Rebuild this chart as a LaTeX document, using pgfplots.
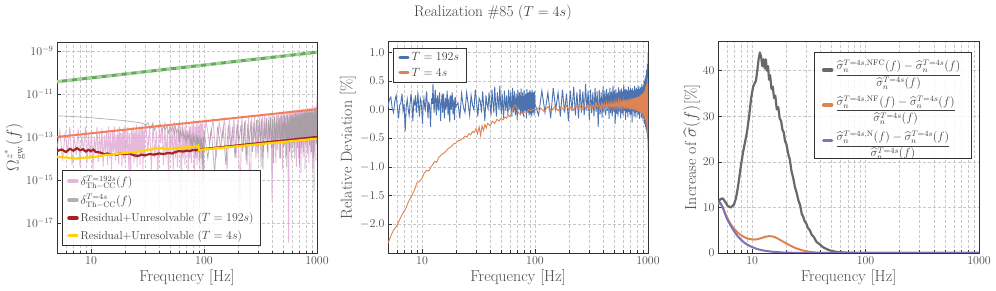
\documentclass[border=0pt]{standalone}
\usepackage{amsmath}
\usepackage{pgfplots}
\pgfplotsset{compat=1.18}

\definecolor{gridc}{RGB}{200,200,200}
\definecolor{framec}{RGB}{50,50,50}
\definecolor{pinkc}{RGB}{222,160,208}
\definecolor{greyc}{RGB}{150,150,150}
\definecolor{coralc}{RGB}{240,128,90}
\definecolor{redc}{RGB}{165,35,35}
\definecolor{yelc}{RGB}{255,212,0}
\definecolor{greenc}{RGB}{100,168,95}
\definecolor{greenl}{RGB}{165,210,150}
\definecolor{blue2}{RGB}{76,114,176}
\definecolor{orange2}{RGB}{221,132,82}
\definecolor{grey3}{RGB}{105,105,105}
\definecolor{purple3}{RGB}{129,114,179}

\begin{document}
\begin{tikzpicture}
\path[use as bounding box] (0,0) rectangle (996bp,291bp);
\node[font=\fontsize{15.4}{18}\selectfont, text=black!75] at (493bp,278bp) {Realization \#85 ($T=4s$)};

% ---------------- Panel 1 ----------------
\begin{axis}[at={(57bp,38bp)}, anchor=south west,
  scale only axis, width=260bp, height=211bp,
  xmode=log, xmin=5, xmax=1000,
  xtick={10,100,1000}, xticklabels={$10$,$100$,$1000$},
  minor xtick={5,6,7,8,9,20,30,40,50,60,70,80,90,200,300,400,500,600,700,800,900},
  xmajorgrids=true, xminorgrids=true, ymajorgrids=true,
  major grid style={gridc, dash pattern=on 3bp off 2bp, line width=0.5bp},
  minor grid style={gridc, dash pattern=on 3bp off 2bp, line width=0.5bp},
  tick align=inside, tick pos=left,
  major tick length=4bp, minor tick length=2.5bp,
  every tick/.style={framec, line width=0.6bp},
  axis line style={framec, line width=1bp},
  every tick label/.append style={font=\fontsize{12}{14}\selectfont, text=black!70},
  every axis label/.append style={font=\fontsize{16}{19}\selectfont, text=black!70},
  xlabel={Frequency [Hz]},
  xlabel style={at={(axis description cs:0.5,-0.114)}, anchor=center},
  legend cell align=left,
  legend image code/.code={\draw[#1, line width=3.5bp, line cap=round] (0bp,0bp) -- (8bp,0bp);},
  ymode=log, ymin=4e-19, ymax=2.6e-9,
  ytick={1e-17,1e-15,1e-13,1e-11,1e-9},
  ylabel={$\Omega^{z^*}_{\mathrm{gw}}(f)$},
  ylabel style={at={(axis description cs:-0.162,0.5)}, anchor=center},
  legend style={at={(0.019,0.033)}, anchor=south west, draw=framec, line width=0.6bp,
    fill=white, fill opacity=0.85, text opacity=1, font=\fontsize{11.5}{13.5}\selectfont,
    inner xsep=5bp, inner ysep=3bp, row sep=3.5bp, text=black!75},
]
% pink delta T=192s
\addplot[pinkc, line width=0.9bp, opacity=0.75] coordinates {
(5.0,3e-14) (5.3,2e-13) (5.6,8e-15) (5.9,1.5e-13) (6.2,2e-14) (6.5,3e-13) (6.8,5e-15) (7.1,1e-13)
(7.4,1.5e-14) (7.7,2.5e-13) (8.0,4e-15) (8.3,1.2e-13) (8.6,2e-14) (8.9,3e-13) (9.2,6e-15) (9.5,1.5e-13)
(9.8,1e-14) (10.1,2e-13) (10.4,3e-15) (10.7,1e-13) (11.0,2e-14) (11.3,3e-13) (11.6,7e-15) (11.9,1.5e-13)
(12.2,1.5e-14) (12.5,2.5e-13) (12.8,4e-15) (13.1,1.2e-13) (13.4,2e-14) (13.7,2e-13) (14.0,5e-15) (14.3,3e-13)
(14.6,1e-14) (14.9,1.5e-13) (15.2,3e-15) (15.5,2e-13) (15.8,2e-14) (16.1,3e-13) (16.4,8e-15) (16.7,1.2e-13)
(17.0,1.5e-14) (17.3,2.5e-13) (17.6,5e-15) (17.9,3e-13) (18.2,2e-14) (18.5,1.5e-13) (18.8,4e-15) (19.1,2e-13)
(19.4,1e-14) (19.7,3e-13) (20.0,6e-15) (20.4,2e-13) (20.8,1.5e-14) (21.2,3e-13) (21.6,3e-15) (22.0,1.5e-13)
(22.4,1e-15) (22.8,2.5e-13) (23.2,2e-14) (23.6,3e-13) (24.0,6e-15) (24.4,2e-13) (24.8,1e-14) (25.2,3.5e-13)
(25.6,4e-15) (26.0,2e-13) (26.4,2e-14) (26.8,3e-13) (27.2,5e-15) (27.6,2.5e-13) (28.0,1.5e-14) (28.4,4e-13)
(28.8,3e-15) (29.2,2e-13) (29.6,1e-14) (30.0,3.5e-13)
(30.6,4e-13) (31.8,2e-14) (33.0,3e-13) (34.2,3e-15) (35.4,5e-13) (36.6,1e-14) (37.8,2e-13) (39.0,2e-15)
(40.2,4e-13) (41.4,5e-14) (42.6,3e-13) (43.8,5e-15) (45.0,5e-13) (46.2,1e-14) (47.4,2e-13) (48.6,8e-16)
(49.8,4e-13) (51.0,2e-14) (52.2,3e-13) (53.4,3e-15) (54.6,5e-13) (55.8,1e-14) (57.0,2e-13) (58.2,4e-15)
(59.4,4e-13) (60.6,3e-14) (61.8,3e-13) (63.0,3e-16) (64.2,5e-13) (65.4,1e-14) (66.6,3e-13) (67.8,5e-15)
(69.0,4e-13) (70.2,2e-14) (71.4,2e-13) (72.6,2e-15) (73.8,5e-13) (75.0,1e-14) (76.2,3e-13) (77.4,6e-15)
(78.6,4e-13) (79.8,3e-14) (81.0,5e-13) (82.2,1e-15) (83.4,3e-13) (84.6,1e-14) (85.8,4e-13) (87.0,5e-15)
(88.2,5e-13) (89.4,2e-14) (90.6,3e-13) (91.8,3e-15) (93.0,5e-13) (94.2,1e-14) (95.4,4e-13) (96.6,6e-16)
(97.8,5e-13) (99.0,2e-14)
(104,6e-13) (112,5e-14) (120,7e-13) (128,1e-14) (136,5e-13) (144,8e-14) (152,8e-13) (160,3e-15)
(168,6e-13) (176,3e-14) (184,8e-13) (192,1e-14) (200,7e-13) (208,1e-16) (216,9e-13) (224,4e-14)
(232,6e-13) (240,5e-15) (248,1e-12) (256,2e-17) (264,8e-13) (272,3e-14) (280,1e-12) (288,1e-14)
(296,7e-13) (304,6e-14) (312,1.1e-12) (320,4e-15) (328,9e-13) (336,2e-14) (344,1.2e-12) (352,8e-14)
(360,8e-13) (368,1e-14) (376,1.2e-12) (384,5e-14) (392,1e-12) (400,1e-16) (408,1.3e-12) (416,3e-14)
(424,9e-13) (432,6e-15) (440,1.4e-12) (448,5e-14) (456,1.1e-12) (464,1e-14) (472,1.5e-12) (480,8e-14)
(488,1.2e-12) (496,3e-15) (504,1.5e-12) (512,4e-14) (520,1.1e-12) (528,1e-14) (536,1.6e-12) (544,6e-14)
(552,1.3e-12) (560,1.2e-18) (568,1.6e-12) (576,3e-14) (584,1.2e-12) (592,8e-15) (600,1.7e-12) (608,5e-14)
(616,1.3e-12) (624,2e-14) (632,1.8e-12) (640,9e-14) (648,1.4e-12) (656,4e-15) (664,1.8e-12) (672,3e-14)
(680,1.5e-12) (688,1e-14) (696,2e-12) (704,6e-14) (712,1.5e-12) (720,2e-15) (728,1.9e-12) (736,4e-14)
(744,1.6e-12) (752,1e-14) (760,2e-12) (768,7e-14) (776,1.6e-12) (784,3e-15) (792,2.1e-12) (800,5e-14)
(808,1.7e-12) (816,2e-14) (824,2.2e-12) (832,8e-14) (840,1.7e-12) (848,6e-15) (856,2.2e-12) (864,4e-14)
(872,1.8e-12) (880,1.5e-14) (888,2.3e-12) (896,9e-14) (904,1.9e-12) (912,3e-15) (920,2.4e-12) (928,5e-14)
(936,2e-12) (944,2e-14) (952,2.6e-12) (960,1e-13) (968,2.2e-12) (976,8e-15) (984,3e-12) (992,5e-14)
(1000,1e-11)
};
\addlegendentry{$\delta^{T=192s}_{\mathrm{Th-CC}}(f)$}
% grey delta T=4s
\addplot[greyc, line width=0.7bp, opacity=0.75] coordinates {
(5,9.5e-13) (6,9.2e-13) (7,8.8e-13) (8,8.5e-13) (10,7.8e-13) (12,7.2e-13) (15,6.5e-13) (18,6e-13)
(21,5.5e-13) (24,5e-13) (27,4.6e-13) (29,4.3e-13)
(30.5,3.5e-13) (32,4.5e-13) (33.5,2.5e-13) (35,4e-13) (36.5,2e-13) (38,3.5e-13) (39.5,2.8e-13) (41,4e-13)
(42.5,1.8e-13) (44,3.2e-13) (45.5,2.2e-13) (47,3.5e-13) (48.5,1.5e-13) (50,3e-13) (51.5,2e-13) (53,3.3e-13)
(54.5,1.2e-13) (56,3e-13) (57.5,1.5e-13) (59,2.5e-13) (60.5,6e-14) (62,2e-13) (63.5,1e-13) (65,2.2e-13)
(66.5,8e-14) (68,1.5e-13) (69.5,5e-14) (71,1.3e-13) (72.5,8e-14) (74,1.8e-13) (75.5,4e-14) (77,1.2e-13)
(78.5,2e-14) (80,1.5e-13) (81.5,6e-14) (83,1e-13) (84.5,1.5e-14) (86,1.3e-13) (87.5,5e-14) (89,1e-13)
(90.5,8e-15) (92,1.2e-13) (93.5,3e-14) (95,9e-14) (96.5,5e-15) (98,1e-13) (99.5,1e-15)
(100,2e-13) (108,1e-14) (116,2.5e-13) (124,2e-15) (132,3e-13) (140,3e-14) (148,2.5e-13) (156,5e-15)
(164,3.5e-13) (172,4e-14) (180,3e-13) (188,1e-14) (196,4e-13) (204,6e-14) (212,3.5e-13) (220,2e-14)
(228,5e-13) (236,8e-15) (244,4e-13) (252,5e-14) (260,5.5e-13) (268,2e-14) (276,4.5e-13) (284,7e-14)
(292,6e-13) (300,1.5e-14) (308,5e-13) (316,6e-14) (324,7e-13) (332,3e-15) (340,5.5e-13) (348,5e-14)
(356,7.5e-13) (364,2e-14) (372,6e-13) (380,8e-14) (388,8e-13) (396,3e-14) (404,7e-13) (412,6e-15)
(420,9e-13) (428,6e-14) (436,7e-13) (444,2.5e-14) (452,9.5e-13) (460,8e-14) (468,8e-13) (476,1e-14)
(484,1e-12) (492,6e-14) (500,8.5e-13) (508,3e-14) (516,1.1e-12) (524,9e-14) (532,9e-13) (540,4e-15)
(548,1.1e-12) (556,5e-14) (564,9e-13) (572,2e-14) (580,1.2e-12) (588,8e-14) (596,1e-12) (604,3e-14)
(612,1.2e-12) (620,1e-13) (628,1e-12) (636,1e-14) (644,1.3e-12) (652,6e-14) (660,1.1e-12) (668,3e-14)
(676,1.3e-12) (684,9e-14) (692,1.1e-12) (700,5e-15) (708,1.4e-12) (716,7e-14) (724,1.2e-12) (732,3e-14)
(740,1.4e-12) (748,1e-13) (756,1.2e-12) (764,2e-14) (772,1.5e-12) (780,8e-14) (788,1.3e-12) (796,4e-14)
(804,1.5e-12) (812,1.1e-13) (820,1.3e-12) (828,1.5e-14) (836,1.6e-12) (844,7e-14) (852,1.4e-12) (860,4e-14)
(868,1.7e-12) (876,1.2e-13) (884,1.4e-12) (892,2e-14) (900,1.7e-12) (908,8e-14) (916,1.5e-12) (924,1e-14)
(932,1.2e-12) (940,3e-16) (948,1.8e-12) (956,6e-14) (964,1.6e-12) (972,1e-13) (980,2e-12) (988,5e-14)
(996,2e-12) (1000,2e-12)
};
\addlegendentry{$\delta^{T=4s}_{\mathrm{Th-CC}}(f)$}
% green power law
\addplot[greenc, line width=3bp, forget plot] coordinates {(5,3.7e-11) (1000,8.7e-10)};
\addplot[greenl, line width=3bp, dash pattern=on 5bp off 5bp, forget plot] coordinates {(5,3.7e-11) (1000,8.7e-10)};
% coral line
\addplot[coralc, line width=2bp, forget plot] coordinates {(5,1e-13) (1000,1.95e-12)};
% residual T=192s
\addplot[redc, line width=2.2bp] coordinates {
(5,2.2e-14) (5.5,2.6e-14) (6,2e-14) (6.5,2.8e-14) (7,2.3e-14) (7.5,3e-14) (8,2.4e-14) (8.5,2.7e-14)
(9,2.1e-14) (9.5,2.5e-14) (10,2.2e-14) (10.5,2.6e-14) (11,2e-14) (12,1.9e-14) (13,1.6e-14) (14,1.7e-14)
(15,1.5e-14) (16,1.6e-14) (17,1.5e-14) (18,1.7e-14) (20,1.6e-14) (22,1.7e-14) (24,1.4e-14) (26,1.3e-14)
(28,1.5e-14) (30,1.4e-14) (33,1.6e-14) (36,1.5e-14) (40,1.7e-14) (44,1.6e-14) (48,1.8e-14) (52,1.7e-14)
(56,2e-14) (60,2.2e-14) (65,2.1e-14) (70,2.3e-14) (75,2.2e-14) (80,2.5e-14) (85,2.4e-14) (90,2.6e-14)
(1000,1e-13)
};
\addlegendentry{Residual+Unresolvable ($T=192s$)}
% residual T=4s
\addplot[yelc, line width=2.2bp] coordinates {
(5,1.2e-14) (5.5,1.15e-14) (6,1.1e-14) (6.5,1.05e-14) (7,1e-14) (7.5,1e-14) (8,1.05e-14) (9,1.1e-14)
(10,1.1e-14) (11,1.2e-14) (12,1.3e-14) (13,1.4e-14) (14,1.5e-14) (15,1.5e-14) (16,1.6e-14) (18,1.7e-14)
(20,1.8e-14) (22,1.9e-14) (24,2e-14) (26,2.1e-14) (28,2.2e-14) (30,2.3e-14) (32,2.6e-14) (34,2.5e-14)
(36,2.9e-14) (38,3e-14) (40,2.8e-14) (42,3.1e-14) (45,2.8e-14) (48,2.7e-14) (50,2.9e-14) (53,2.8e-14)
(56,3.1e-14) (60,3e-14) (63,3.2e-14) (66,3.1e-14) (70,3.3e-14) (74,3.2e-14) (78,3.4e-14) (82,3.5e-14)
(86,3.7e-14) (89,4e-14) (90.5,2.5e-14) (1000,8.3e-14)
};
\addlegendentry{Residual+Unresolvable ($T=4s$)}
\end{axis}

% ---------------- Panel 2 ----------------
\begin{axis}[at={(388bp,38bp)}, anchor=south west,
  scale only axis, width=260bp, height=211bp,
  xmode=log, xmin=5, xmax=1000,
  xtick={10,100,1000}, xticklabels={$10$,$100$,$1000$},
  minor xtick={5,6,7,8,9,20,30,40,50,60,70,80,90,200,300,400,500,600,700,800,900},
  xmajorgrids=true, xminorgrids=true, ymajorgrids=true,
  major grid style={gridc, dash pattern=on 3bp off 2bp, line width=0.5bp},
  minor grid style={gridc, dash pattern=on 3bp off 2bp, line width=0.5bp},
  tick align=inside, tick pos=left,
  major tick length=4bp, minor tick length=2.5bp,
  every tick/.style={framec, line width=0.6bp},
  axis line style={framec, line width=1bp},
  every tick label/.append style={font=\fontsize{12}{14}\selectfont, text=black!70},
  every axis label/.append style={font=\fontsize{16}{19}\selectfont, text=black!70},
  xlabel={Frequency [Hz]},
  xlabel style={at={(axis description cs:0.5,-0.114)}, anchor=center},
  legend cell align=left,
  legend image code/.code={\draw[#1, line width=3.5bp, line cap=round] (0bp,0bp) -- (8bp,0bp);},
  ymin=-2.5, ymax=1.18,
  ytick={-2,-1.5,-1,-0.5,0,0.5,1},
  yticklabel style={/pgf/number format/.cd, fixed, fixed zerofill, precision=1},
  ylabel={Relative Deviation [\%]},
  ylabel style={at={(axis description cs:-0.154,0.5)}, anchor=center},
  legend style={at={(0.019,0.972)}, anchor=north west, draw=framec, line width=0.6bp,
    fill=white, fill opacity=0.85, text opacity=1, font=\fontsize{11.5}{13.5}\selectfont,
    inner xsep=5bp, inner ysep=2.5bp, row sep=1.5bp, text=black!75},
]
\addplot[blue2, line width=0.9bp] coordinates {
(5.00,0.05) (5.15,0.18) (5.30,0.22) (5.45,0.02) (5.60,-0.05) (5.75,0.15) (5.90,0.25) (6.05,0.05)
(6.20,-0.15) (6.35,0.08) (6.50,0.12) (6.65,0.28) (6.80,-0.02) (6.95,0.1) (7.10,-0.38) (7.25,0.05)
(7.40,0.18) (7.55,0.0) (7.70,-0.1) (7.85,0.12) (8.00,0.28) (8.15,0.08) (8.30,-0.2) (8.45,0.15)
(8.60,0.1) (8.75,0.25) (8.90,-0.05) (9.05,0.12) (9.20,0.3) (9.35,0.02) (9.50,-0.12) (9.65,0.2)
(9.80,0.15) (9.95,-0.02) (10.10,-0.25) (10.25,0.1) (10.40,0.2) (10.55,0.05) (10.70,0.0) (10.85,0.22)
(11.00,0.32) (11.15,0.05) (11.30,-0.15) (11.45,0.12) (11.60,0.1) (11.75,-0.05) (11.90,-0.3) (12.05,0.08)
(12.20,0.2) (12.35,0.1) (12.50,0.45) (12.65,0.15) (12.80,-0.05) (12.95,0.2) (13.10,0.35) (13.25,0.05)
(13.40,-0.1) (13.55,0.18) (13.70,0.25) (13.85,0.02) (14.00,0.0) (14.15,0.22) (14.30,0.3) (14.45,0.05)
(14.60,-0.2) (14.75,0.1) (14.90,0.15) (15.05,0.28) (15.20,-0.05) (15.35,0.12) (15.50,0.28) (15.65,0.02)
(15.80,-0.15) (15.95,0.1) (16.10,0.2) (16.25,0.0) (16.40,0.05) (16.55,0.2) (16.70,0.33) (16.85,0.08)
(17.00,-0.1) (17.15,0.15) (17.30,0.18) (17.45,0.0) (17.60,-0.22) (17.75,0.1) (17.90,0.25) (18.05,0.08)
(18.20,0.0) (18.35,0.2) (18.50,0.3) (18.65,0.1) (18.80,-0.08) (18.95,0.12) (19.10,0.15) (19.25,-0.05)
(19.40,-0.18) (19.55,0.1) (19.70,0.22) (19.85,0.05)
(20.8,0.12) (21.6,-0.15) (22.4,0.28) (23.2,0.05) (24.0,-0.05) (24.8,0.3) (25.6,0.1) (26.4,-0.1)
(27.2,0.25) (28.0,0.08) (28.8,0.0) (29.6,0.35) (30.4,0.12) (31.2,-0.12) (32.0,0.2) (32.8,0.15)
(33.6,-0.05) (34.4,0.32) (35.2,0.05) (36.0,-0.2) (36.8,0.25) (37.6,0.1) (38.4,0.02) (39.2,0.3)
(40.0,0.08) (40.8,-0.1) (41.6,0.35) (42.4,0.12) (43.2,-0.05) (44.0,0.4) (44.8,0.1) (45.6,-0.12)
(46.4,0.3) (47.2,0.15) (48.0,0.0) (48.8,0.42) (49.6,0.1) (50.4,-0.08) (51.2,0.28) (52.0,0.05)
(52.8,-0.15) (53.6,0.33) (54.4,0.12) (55.2,-0.02) (56.0,0.25) (56.8,0.08) (57.6,-0.1) (58.4,0.35)
(59.2,0.15) (60.0,0.0) (60.8,0.3) (61.6,0.1) (62.4,-0.12) (63.2,0.38) (64.0,0.12) (64.8,-0.05)
(65.6,0.32) (66.4,0.08) (67.2,-0.1) (68.0,0.28) (68.8,0.1) (69.6,-0.18) (70.4,0.35) (71.2,0.1)
(72.0,0.0) (72.8,0.3) (73.6,0.08) (74.4,-0.1) (75.2,0.37) (76.0,0.12) (76.8,-0.05) (77.6,0.3)
(78.4,0.1) (79.2,-0.12) (80.0,0.34) (80.8,0.08) (81.6,-0.02) (82.4,0.28) (83.2,0.12) (84.0,-0.15)
(84.8,0.36) (85.6,0.1) (86.4,-0.05) (87.2,0.3) (88.0,0.12) (88.8,-0.1) (89.6,0.33) (90.4,0.08)
(91.2,-0.08) (92.0,0.3) (92.8,0.1) (93.6,-0.12) (94.4,0.35) (95.2,0.12) (96.0,-0.05) (96.8,0.3)
(97.6,0.1) (98.4,-0.1) (99.2,0.32) (100.0,0.1)
(107.5,-0.1) (115,0.33) (122.5,-0.05) (130,0.3) (137.5,-0.15) (145,0.38) (152.5,0.0) (160,0.3)
(167.5,-0.12) (175,0.35) (182.5,-0.05) (190,0.28) (197.5,-0.2) (205,0.33) (212.5,-0.03) (220,0.4)
(227.5,-0.1) (235,0.3) (242.5,-0.15) (250,0.36) (257.5,-0.05) (265,0.32) (272.5,-0.1) (280,0.45)
(287.5,-0.02) (295,0.33) (302.5,-0.18) (310,0.35) (317.5,-0.06) (325,0.3) (332.5,-0.12) (340,0.38)
(347.5,-0.04) (355,0.32) (362.5,-0.3) (370,0.35) (377.5,-0.08) (385,0.3) (392.5,-0.14) (400,0.4)
(407.5,-0.05) (415,0.33) (422.5,-0.1) (430,0.36) (437.5,-0.02) (445,0.3) (452.5,-0.16) (460,0.38)
(467.5,-0.06) (475,0.32) (482.5,-0.12) (490,0.42) (497.5,-0.04) (505,0.33) (512.5,-0.25) (520,0.36)
(527.5,-0.07) (535,0.3) (542.5,-0.12) (550,0.39) (557.5,-0.03) (565,0.34) (572.5,-0.15) (580,0.37)
(587.5,-0.06) (595,0.32) (602.5,-0.1) (610,0.44) (617.5,-0.02) (625,0.35) (632.5,-0.18) (640,0.36)
(647.5,-0.05) (655,0.33) (662.5,-0.13) (670,0.4) (677.5,-0.04) (685,0.34) (692.5,-0.1) (700,0.38)
(707.5,-0.08) (715,0.35) (722.5,-0.22) (730,0.37) (737.5,-0.03) (745,0.33) (752.5,-0.12) (760,0.41)
(767.5,-0.06) (775,0.35) (782.5,-0.14) (790,0.38) (797.5,-0.04) (805,0.36) (812.5,-0.1) (820,0.42)
(827.5,-0.08) (835,0.36) (842.5,-0.16) (850,0.4) (857.5,-0.05) (865,0.38) (872.5,-0.14) (880,0.45)
(887.5,-0.1) (895,0.4) (902.5,-0.2) (910,0.43) (917.5,-0.15) (925,0.5) (932.5,-0.25) (940,0.55)
(947.5,-0.3) (955,0.6) (962.5,-0.35) (970,0.7) (977.5,-0.4) (985,0.8) (992.5,-0.5) (1000,1.0)
};
\addlegendentry{$T=192s$}
\addplot[orange2, line width=0.9bp] coordinates {
(5,-2.33) (5.3,-2.2) (5.6,-2.1) (6.0,-2.02) (6.4,-1.9) (6.8,-1.8) (7.2,-1.72) (7.6,-1.6)
(8.0,-1.52) (8.5,-1.42) (9.0,-1.28) (9.5,-1.25) (10.0,-1.2) (10.5,-1.1) (11.0,-1.06) (11.5,-1.07)
(12,-1.0) (12.5,-0.95) (13,-0.9) (13.5,-0.92) (14,-0.84) (15,-0.78) (16,-0.74) (17,-0.68)
(18,-0.65) (19,-0.6) (20,-0.58) (21,-0.54) (22,-0.53) (23,-0.5) (24,-0.46) (25,-0.48)
(26,-0.42) (27,-0.44) (28,-0.38) (29,-0.4) (30,-0.33) (31,-0.42) (32,-0.3) (33,-0.45)
(34,-0.28) (35,-0.36) (36,-0.26) (37,-0.32) (38,-0.24) (40,-0.28) (42,-0.2) (44,-0.24)
(46,-0.17) (48,-0.2) (50,-0.15) (52,-0.18) (54,-0.13) (56,-0.15) (58,-0.1) (60,-0.12)
(62,-0.05) (64,0.02) (66,0.08) (68,0.06) (70,-0.02) (72,-0.06) (74,-0.08) (76,-0.05)
(78,-0.07) (80,-0.03) (84,-0.05) (88,0.0) (92,-0.02) (96,0.01) (100,0.0)
(110,0.04) (120,-0.03) (130,0.05) (140,-0.02) (150,0.06) (160,-0.02) (170,0.05) (180,-0.01)
(190,0.07) (200,0.0) (210,0.06) (220,-0.01) (230,0.08) (240,0.01) (250,0.07) (260,0.0)
(270,0.09) (280,0.02) (290,0.08) (300,0.01) (310,0.1) (320,0.02) (330,0.09) (340,0.01)
(350,0.11) (360,0.03) (370,0.1) (380,0.02) (390,0.12) (400,0.03) (410,0.11) (420,0.02)
(430,0.13) (440,0.03) (450,0.12) (460,0.02) (470,0.14) (480,0.03) (490,0.13) (500,0.02)
(510,0.15) (520,0.03) (530,0.14) (540,0.02) (550,0.16) (560,0.03) (570,0.15) (580,0.02)
(590,0.17) (600,0.03) (610,0.16) (620,0.02) (630,0.18) (640,0.02) (650,0.17) (660,0.01)
(670,0.19) (680,0.02) (690,0.18) (700,0.0) (710,0.2) (720,0.01) (730,0.19) (740,-0.01)
(750,0.21) (760,0.0) (770,0.2) (780,-0.02) (790,0.22) (800,-0.01) (810,0.22) (820,-0.03)
(830,0.23) (840,-0.04) (850,0.25) (860,-0.05) (870,0.26) (880,-0.07) (890,0.28) (900,-0.08)
(910,0.3) (920,-0.12) (930,0.33) (940,-0.18) (950,0.4) (960,-0.25) (970,0.45) (980,-0.4)
(990,0.55) (1000,-0.7)
};
\addlegendentry{$T=4s$}
\end{axis}

% ---------------- Panel 3 ----------------
\begin{axis}[at={(718bp,38bp)}, anchor=south west,
  scale only axis, width=261bp, height=211bp,
  xmode=log, xmin=5, xmax=1000,
  xtick={10,100,1000}, xticklabels={$10$,$100$,$1000$},
  minor xtick={5,6,7,8,9,20,30,40,50,60,70,80,90,200,300,400,500,600,700,800,900},
  xmajorgrids=true, xminorgrids=true, ymajorgrids=true,
  major grid style={gridc, dash pattern=on 3bp off 2bp, line width=0.5bp},
  minor grid style={gridc, dash pattern=on 3bp off 2bp, line width=0.5bp},
  tick align=inside, tick pos=left,
  major tick length=4bp, minor tick length=2.5bp,
  every tick/.style={framec, line width=0.6bp},
  axis line style={framec, line width=1bp},
  every tick label/.append style={font=\fontsize{12}{14}\selectfont, text=black!70},
  every axis label/.append style={font=\fontsize{16}{19}\selectfont, text=black!70},
  xlabel={Frequency [Hz]},
  xlabel style={at={(axis description cs:0.5,-0.114)}, anchor=center},
  legend cell align=left,
  legend image code/.code={\draw[#1, line width=3.5bp, line cap=round] (0bp,0bp) -- (8bp,0bp);},
  ymin=0, ymax=46.3,
  ytick={0,10,20,30,40},
  ylabel={Increase of $\widehat{\sigma}(f)$[\%]},
  ylabel style={at={(axis description cs:-0.10,0.5)}, anchor=center},
  legend style={at={(0.973,0.953)}, anchor=north east, draw=framec, line width=0.6bp,
    fill=white, fill opacity=0.85, text opacity=1, font=\fontsize{11.5}{13.5}\selectfont,
    inner xsep=8bp, inner ysep=6bp, row sep=12bp, text=black!75},
]
\addplot[grey3, line width=2.2bp, line join=round] coordinates {
(5,11) (5.25,11.8) (5.5,12) (5.8,11.2) (6.1,10.3) (6.5,10) (6.9,10.6) (7.2,12)
(7.5,14.5) (8.0,19.5) (8.3,22) (8.6,24) (9.0,26.5) (9.4,30) (9.8,34) (10.2,36.5)
(10.5,37.2) (10.8,37.8) (11.1,40) (11.4,42.5) (11.7,44) (12.0,43) (12.3,41) (12.6,42.5)
(12.9,40.5) (13.2,42.5) (13.5,40) (13.8,41) (14.1,38) (14.4,39) (14.8,36) (15.2,36.5)
(15.6,34) (16.0,34.5) (16.5,31.5) (17.0,32) (17.5,29.5) (18.0,29) (18.5,27) (19.0,26.5)
(19.5,24.5) (20.0,24) (20.9,21.5) (21.5,20.5) (22.2,18) (23.0,16.5) (23.8,14.5) (24.5,13.5)
(25.6,11.5) (26.5,10.5) (27.4,8.5) (28.2,8) (29,7) (30,6.5) (31,5.5) (32.2,5)
(33.5,4) (35,3.5) (37,2.4) (39,2) (42,1.3) (45,0.9) (48,0.6) (55,0.25)
(65,0.1) (80,0.03) (100,0) (1000,0)
};
\addlegendentry{$\dfrac{\widehat{\sigma}_n^{T=4s,\mathrm{NFC}}(f)-\widehat{\sigma}_n^{T=4s}(f)}{\widehat{\sigma}_n^{T=4s}(f)}$}
\addplot[orange2, line width=2bp] coordinates {
(5,10.8) (5.25,10.9) (5.5,10) (6,7.8) (6.5,6.2) (7,5.2) (7.5,4.4) (8,3.9)
(8.5,3.5) (9,3.2) (9.5,3.05) (10,3.0) (10.5,2.95) (11,3.0) (12,3.25) (13,3.55)
(14,3.7) (15,3.65) (16,3.45) (17,3.1) (18,2.75) (20,2.1) (22,1.55) (24,1.1)
(26,0.8) (28,0.55) (30,0.4) (33,0.22) (36,0.12) (40,0.05) (50,0.01) (60,0) (1000,0)
};
\addlegendentry{$\dfrac{\widehat{\sigma}_n^{T=4s,\mathrm{NF}}(f)-\widehat{\sigma}_n^{T=4s}(f)}{\widehat{\sigma}_n^{T=4s}(f)}$}
\addplot[purple3, line width=2bp] coordinates {
(5,10.8) (5.25,11) (5.5,10) (6,7.5) (6.5,5.9) (7,4.6) (7.5,3.6) (8,2.9)
(8.5,2.3) (9,1.85) (10,1.3) (11,0.9) (12,0.65) (13,0.48) (15,0.28) (18,0.13)
(20,0.08) (25,0.03) (30,0.01) (40,0) (1000,0)
};
\addlegendentry{$\dfrac{\widehat{\sigma}_n^{T=4s,\mathrm{N}}(f)-\widehat{\sigma}_n^{T=4s}(f)}{\widehat{\sigma}_n^{T=4s}(f)}$}
\end{axis}
\end{tikzpicture}
\end{document}
